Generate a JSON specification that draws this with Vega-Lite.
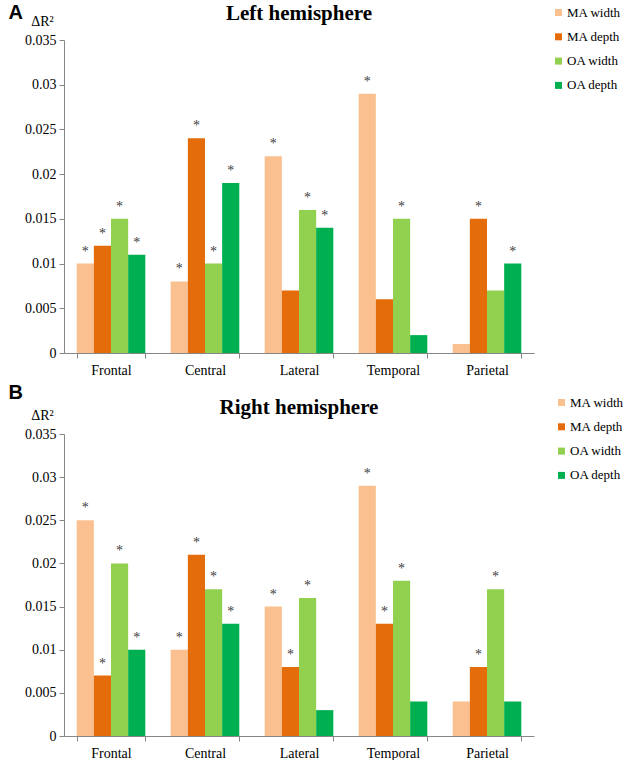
{
  "$schema": "https://vega.github.io/schema/vega-lite/v6.json",
  "padding": {"left": 8, "top": 3, "right": 0, "bottom": 0},
  "background": "white",
  "config": {
    "view": {"stroke": null},
    "font": "Liberation Serif",
    "axis": {"labelFont": "Liberation Serif", "labelFontSize": 14, "labelColor": "#000000", "domainColor": "#868686", "tickColor": "#868686", "grid": false, "tickSize": 5},
    "legend": {"labelFont": "Liberation Serif", "labelFontSize": 13, "labelColor": "#000000", "symbolType": "square", "symbolSize": 49, "symbolStrokeWidth": 0, "rowPadding": 10.3, "padding": 0, "labelOffset": 2}
  },
  "datasets": {
    "bars": [
      {"panel": "A", "region": "Frontal", "measure": "MA width", "value": 0.010, "sig": true},
      {"panel": "A", "region": "Frontal", "measure": "MA depth", "value": 0.012, "sig": true},
      {"panel": "A", "region": "Frontal", "measure": "OA width", "value": 0.015, "sig": true},
      {"panel": "A", "region": "Frontal", "measure": "OA depth", "value": 0.011, "sig": true},
      {"panel": "A", "region": "Central", "measure": "MA width", "value": 0.008, "sig": true},
      {"panel": "A", "region": "Central", "measure": "MA depth", "value": 0.024, "sig": true},
      {"panel": "A", "region": "Central", "measure": "OA width", "value": 0.010, "sig": true},
      {"panel": "A", "region": "Central", "measure": "OA depth", "value": 0.019, "sig": true},
      {"panel": "A", "region": "Lateral", "measure": "MA width", "value": 0.022, "sig": true},
      {"panel": "A", "region": "Lateral", "measure": "MA depth", "value": 0.007, "sig": false},
      {"panel": "A", "region": "Lateral", "measure": "OA width", "value": 0.016, "sig": true},
      {"panel": "A", "region": "Lateral", "measure": "OA depth", "value": 0.014, "sig": true},
      {"panel": "A", "region": "Temporal", "measure": "MA width", "value": 0.029, "sig": true},
      {"panel": "A", "region": "Temporal", "measure": "MA depth", "value": 0.006, "sig": false},
      {"panel": "A", "region": "Temporal", "measure": "OA width", "value": 0.015, "sig": true},
      {"panel": "A", "region": "Temporal", "measure": "OA depth", "value": 0.002, "sig": false},
      {"panel": "A", "region": "Parietal", "measure": "MA width", "value": 0.001, "sig": false},
      {"panel": "A", "region": "Parietal", "measure": "MA depth", "value": 0.015, "sig": true},
      {"panel": "A", "region": "Parietal", "measure": "OA width", "value": 0.007, "sig": false},
      {"panel": "A", "region": "Parietal", "measure": "OA depth", "value": 0.010, "sig": true},
      {"panel": "B", "region": "Frontal", "measure": "MA width", "value": 0.025, "sig": true},
      {"panel": "B", "region": "Frontal", "measure": "MA depth", "value": 0.007, "sig": true},
      {"panel": "B", "region": "Frontal", "measure": "OA width", "value": 0.020, "sig": true},
      {"panel": "B", "region": "Frontal", "measure": "OA depth", "value": 0.010, "sig": true},
      {"panel": "B", "region": "Central", "measure": "MA width", "value": 0.010, "sig": true},
      {"panel": "B", "region": "Central", "measure": "MA depth", "value": 0.021, "sig": true},
      {"panel": "B", "region": "Central", "measure": "OA width", "value": 0.017, "sig": true},
      {"panel": "B", "region": "Central", "measure": "OA depth", "value": 0.013, "sig": true},
      {"panel": "B", "region": "Lateral", "measure": "MA width", "value": 0.015, "sig": true},
      {"panel": "B", "region": "Lateral", "measure": "MA depth", "value": 0.008, "sig": true},
      {"panel": "B", "region": "Lateral", "measure": "OA width", "value": 0.016, "sig": true},
      {"panel": "B", "region": "Lateral", "measure": "OA depth", "value": 0.003, "sig": false},
      {"panel": "B", "region": "Temporal", "measure": "MA width", "value": 0.029, "sig": true},
      {"panel": "B", "region": "Temporal", "measure": "MA depth", "value": 0.013, "sig": true},
      {"panel": "B", "region": "Temporal", "measure": "OA width", "value": 0.018, "sig": true},
      {"panel": "B", "region": "Temporal", "measure": "OA depth", "value": 0.004, "sig": false},
      {"panel": "B", "region": "Parietal", "measure": "MA width", "value": 0.004, "sig": false},
      {"panel": "B", "region": "Parietal", "measure": "MA depth", "value": 0.008, "sig": true},
      {"panel": "B", "region": "Parietal", "measure": "OA width", "value": 0.017, "sig": true},
      {"panel": "B", "region": "Parietal", "measure": "OA depth", "value": 0.004, "sig": false}
    ]
  },
  "resolve": {"scale": {"color": "independent"}},
  "spacing": 6,
  "vconcat": [
    {
      "title": {"text": "A", "anchor": "start", "frame": "bounds", "font": "Liberation Sans", "fontSize": 20, "fontWeight": "bold", "color": "#000000", "offset": 0, "dy": 20, "dx": -16},
      "vconcat": [
        {
          "data": {"name": "bars"},
          "transform": [{"filter": "datum.panel == 'A'"}],
          "width": 470,
          "height": 313,
          "title": {"text": "Left hemisphere", "anchor": "middle", "frame": "group", "font": "Liberation Serif", "fontSize": 21, "fontWeight": "bold", "color": "#000000", "offset": -10},
          "encoding": {
            "x": {"field": "region", "type": "nominal", "sort": ["Frontal", "Central", "Lateral", "Temporal", "Parietal"], "scale": {"paddingInner": 0.27, "paddingOuter": 0.135}, "axis": {"title": null, "labelAngle": 0, "tickBand": "extent", "labelPadding": 5}},
            "xOffset": {"field": "measure", "type": "nominal", "sort": ["MA width", "MA depth", "OA width", "OA depth"], "scale": {"paddingInner": 0, "paddingOuter": 0}},
            "y": {"field": "value", "type": "quantitative", "scale": {"domain": [0, 0.035]}, "axis": {"values": [0, 0.005, 0.01, 0.015, 0.02, 0.025, 0.03, 0.035], "format": "~g", "title": "ΔR²", "titleAngle": 0, "titleX": -22, "titleY": -12, "titleAlign": "center", "titleBaseline": "bottom", "titleFont": "Liberation Serif", "titleFontWeight": "normal", "titleFontSize": 14, "labelPadding": 3}}
          },
          "layer": [
            {
              "mark": {"type": "bar"},
              "encoding": {
                "color": {"field": "measure", "type": "nominal", "sort": ["MA width", "MA depth", "OA width", "OA depth"], "scale": {"domain": ["MA width", "MA depth", "OA width", "OA depth"], "range": ["#FAC090", "#E46C0A", "#92D050", "#00B050"]}, "legend": {"title": null, "orient": "none", "legendX": 488, "legendY": -34}}
              }
            },
            {
              "transform": [{"filter": "datum.sig"}],
              "mark": {"type": "text", "text": "*", "baseline": "alphabetic", "dy": -8, "fontSize": 14, "color": "#404040", "font": "Liberation Serif"}
            }
          ]
        }
      ]
    },
    {
      "title": {"text": "B", "anchor": "start", "frame": "bounds", "font": "Liberation Sans", "fontSize": 20, "fontWeight": "bold", "color": "#000000", "offset": 0, "dy": 7, "dx": -16},
      "vconcat": [
        {
          "data": {"name": "bars"},
          "transform": [{"filter": "datum.panel == 'B'"}],
          "width": 470,
          "height": 302,
          "title": {"text": "Right hemisphere", "anchor": "middle", "frame": "group", "font": "Liberation Serif", "fontSize": 21, "fontWeight": "bold", "color": "#000000", "offset": -10},
          "encoding": {
            "x": {"field": "region", "type": "nominal", "sort": ["Frontal", "Central", "Lateral", "Temporal", "Parietal"], "scale": {"paddingInner": 0.27, "paddingOuter": 0.135}, "axis": {"title": null, "labelAngle": 0, "tickBand": "extent", "labelPadding": 5}},
            "xOffset": {"field": "measure", "type": "nominal", "sort": ["MA width", "MA depth", "OA width", "OA depth"], "scale": {"paddingInner": 0, "paddingOuter": 0}},
            "y": {"field": "value", "type": "quantitative", "scale": {"domain": [0, 0.035]}, "axis": {"values": [0, 0.005, 0.01, 0.015, 0.02, 0.025, 0.03, 0.035], "format": "~g", "title": "ΔR²", "titleAngle": 0, "titleX": -22, "titleY": -12, "titleAlign": "center", "titleBaseline": "bottom", "titleFont": "Liberation Serif", "titleFontWeight": "normal", "titleFontSize": 14, "labelPadding": 3}}
          },
          "layer": [
            {
              "mark": {"type": "bar"},
              "encoding": {
                "color": {"field": "measure", "type": "nominal", "sort": ["MA width", "MA depth", "OA width", "OA depth"], "scale": {"domain": ["MA width", "MA depth", "OA width", "OA depth"], "range": ["#FAC090", "#E46C0A", "#92D050", "#00B050"]}, "legend": {"title": null, "orient": "none", "legendX": 491, "legendY": -38}}
              }
            },
            {
              "transform": [{"filter": "datum.sig"}],
              "mark": {"type": "text", "text": "*", "baseline": "alphabetic", "dy": -8, "fontSize": 14, "color": "#404040", "font": "Liberation Serif"}
            }
          ]
        }
      ]
    }
  ]
}
